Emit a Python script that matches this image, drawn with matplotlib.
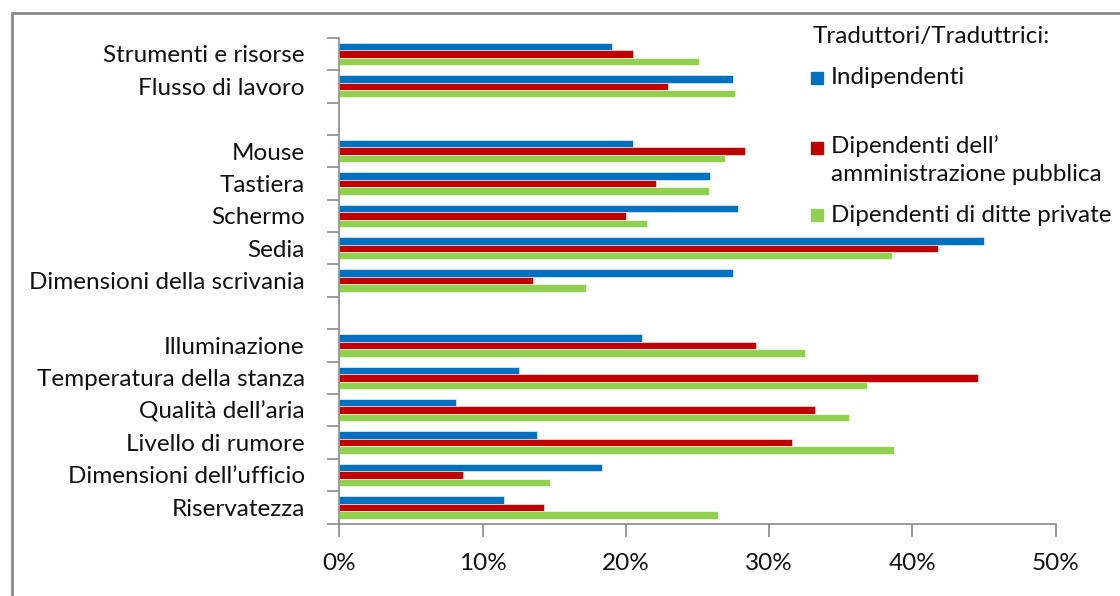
import numpy as np
import matplotlib.pyplot as plt
from matplotlib.patches import Rectangle

plt.rcParams['font.family'] = ['Lato', 'DejaVu Sans']

# categorie (dall'alto verso il basso), "" = spazio vuoto
categorie = ["Strumenti e risorse", "Flusso di lavoro", "",
             "Mouse", "Tastiera", "Schermo", "Sedia", "Dimensioni della scrivania", "",
             "Illuminazione", "Temperatura della stanza", "Qualità dell’aria",
             "Livello di rumore", "Dimensioni dell’ufficio", "Riservatezza"]
nan = np.nan
indipendenti = [19.0, 27.5, nan, 20.5, 25.9, 27.8, 45.0, 27.5, nan,
                21.1, 12.5, 8.1, 13.8, 18.3, 11.5]
pubblica = [20.5, 22.9, nan, 28.3, 22.1, 20.0, 41.8, 13.5, nan,
            29.1, 44.6, 33.2, 31.6, 8.6, 14.3]
private = [25.1, 27.6, nan, 26.9, 25.8, 21.5, 38.6, 17.2, nan,
           32.5, 36.8, 35.6, 38.7, 14.7, 26.4]
legenda_titolo = "Traduttori/Traduttrici:"
nomi = ["Indipendenti", "Dipendenti dell’\namministrazione pubblica", "Dipendenti di ditte private"]
colori = ["#0070C0", "#C00000", "#92D050"]
xtick = [0, 10, 20, 30, 40, 50]
fs = 17.5

fig = plt.figure(figsize=(11.2, 5.96), dpi=100)
ax = fig.add_axes([0.3031, 0.1216, 0.6395, 0.8151])

y = np.arange(len(categorie))
h = 0.23
for i, (serie, c) in enumerate(zip([indipendenti, pubblica, private], colori)):
    ax.barh(y + (i - 1) * h, np.array(serie) / 100, height=h, color=c,
            edgecolor='white', linewidth=0.4)

ax.set_ylim(len(categorie) - 0.5, -0.5)
ax.set_xlim(0, 0.5)
ax.set_yticks(y)
ax.set_yticklabels(categorie, fontsize=fs, color='#111111')
ax.set_yticks(np.arange(len(categorie) + 1) - 0.5, minor=True)
ax.tick_params(axis='y', which='major', length=0, pad=25)
ax.tick_params(axis='y', which='minor', length=9, color='#8a8a8a', width=1.2)
ax.set_xticks(np.array(xtick) / 100)
ax.set_xticklabels([f"{v}%" for v in xtick], fontsize=fs, color='#111111')
ax.tick_params(axis='x', length=9, color='#8a8a8a', width=1.2, pad=12)
for s in ['top', 'right']:
    ax.spines[s].set_visible(False)
for s in ['left', 'bottom']:
    ax.spines[s].set_color('#8a8a8a')
    ax.spines[s].set_linewidth(1.2)

# legenda manuale
W, H = 1120, 596
def fx(px): return px / W
def fy(py): return 1 - py / H
fig.text(fx(813), fy(37), legenda_titolo, fontsize=fs, va='center', color='#111111')
pos = [78, 148, 215]
for nome, c, p in zip(nomi, colori, pos):
    fig.patches.append(Rectangle((fx(811), fy(p + 6)), 12 / W, 12 / H, color=c,
                                 transform=fig.transFigure))
    if '\n' in nome:
        fig.text(fx(831), fy(p - 13), nome, fontsize=fs, va='top',
                 color='#111111', linespacing=1.45)
    else:
        fig.text(fx(831), fy(p), nome, fontsize=fs, va='center', color='#111111')

# cornice
fig.patches.append(Rectangle((fx(12), fy(700)), 1200 / W, (700 - 13) / H, fill=False,
                             edgecolor='#8a8a8a', linewidth=2, transform=fig.transFigure))

fig.savefig("out.png", dpi=100)
